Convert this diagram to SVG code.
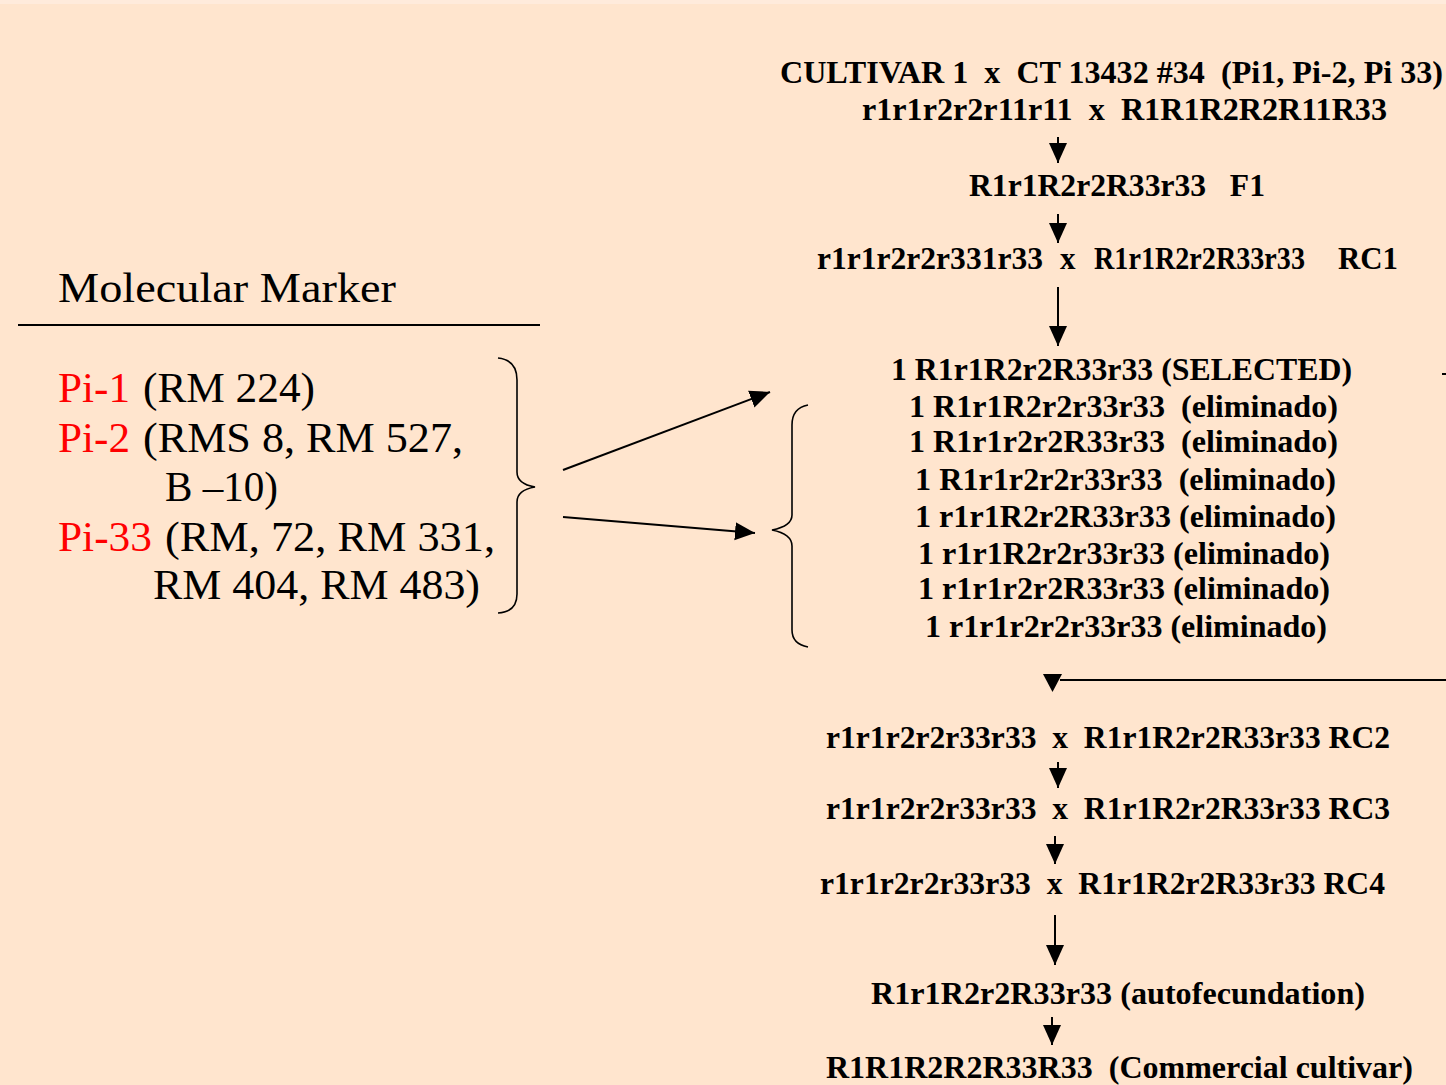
<svg xmlns="http://www.w3.org/2000/svg" width="1446" height="1085" viewBox="0 0 1446 1085" xml:space="preserve">
<style>
.r{font-family:"Liberation Serif","Times New Roman",serif;font-weight:bold;font-size:31px;fill:#000;white-space:pre}
.l{font-family:"Liberation Serif","Times New Roman",serif;font-size:42px;fill:#000;white-space:pre}
.red{fill:#FF0000}
.ln{stroke:#000;stroke-width:2;fill:none}
.br{stroke:#000;stroke-width:1.6;fill:none}
</style>
<defs>
<marker id="ah" markerUnits="userSpaceOnUse" markerWidth="20" markerHeight="20" viewBox="0 0 20 20" refX="20" refY="10" orient="auto">
<path d="M0,1 L20,10 L0,19 Z" fill="#000"/>
</marker>
</defs>
<rect width="1446" height="1085" fill="#FFE5CE"/>
<rect width="1446" height="4" fill="#FFEBDC"/>

<g id="marker-panel">
<text class="l" x="58" y="302" textLength="338" lengthAdjust="spacingAndGlyphs">Molecular Marker</text>
<line class="ln" x1="18" y1="325" x2="540" y2="325"/>
<text class="l red" x="58" y="402" textLength="72" lengthAdjust="spacingAndGlyphs">Pi-1</text>
<text class="l" x="143" y="402" textLength="172" lengthAdjust="spacingAndGlyphs">(RM 224)</text>
<text class="l red" x="58" y="452" textLength="72" lengthAdjust="spacingAndGlyphs">Pi-2</text>
<text class="l" x="143" y="452" textLength="320" lengthAdjust="spacingAndGlyphs">(RMS 8, RM 527,</text>
<text class="l" x="165" y="501" textLength="113" lengthAdjust="spacingAndGlyphs">B –10)</text>
<text class="l red" x="58" y="551" textLength="94" lengthAdjust="spacingAndGlyphs">Pi-33</text>
<text class="l" x="165" y="551" textLength="330" lengthAdjust="spacingAndGlyphs">(RM, 72, RM 331,</text>
<text class="l" x="153" y="599" textLength="327" lengthAdjust="spacingAndGlyphs">RM 404, RM 483)</text>
<path class="br" d="M498,358 Q517,360 517,380 L517,472 Q517,484 535,487 Q517,490 517,502 L517,594 Q517,612 498,613"/>
</g>

<g id="cross1">
<text class="r" x="780" y="83" textLength="663" lengthAdjust="spacingAndGlyphs">CULTIVAR 1  x  CT 13432 #34  (Pi1, Pi-2, Pi 33)</text>
<text class="r" x="862" y="120" textLength="525" lengthAdjust="spacingAndGlyphs">r1r1r2r2r11r11  x  R1R1R2R2R11R33</text>
</g>
<g id="f1">
<text class="r" x="969" y="196" textLength="296" lengthAdjust="spacingAndGlyphs">R1r1R2r2R33r33   F1</text>
</g>
<g id="rc1">
<text class="r" x="817" y="269" textLength="226" lengthAdjust="spacingAndGlyphs">r1r1r2r2r331r33</text>
<text class="r" x="1060" y="269">x</text>
<text class="r" x="1094" y="269" textLength="211" lengthAdjust="spacingAndGlyphs">R1r1R2r2R33r33</text>
<text class="r" x="1338" y="269" textLength="60" lengthAdjust="spacingAndGlyphs">RC1</text>
</g>
<g id="selection">
<text class="r" x="891" y="380" textLength="461" lengthAdjust="spacingAndGlyphs">1 R1r1R2r2R33r33 (SELECTED)</text>
<text class="r" x="909" y="417" textLength="429" lengthAdjust="spacingAndGlyphs">1 R1r1R2r2r33r33  (eliminado)</text>
<text class="r" x="909" y="452" textLength="429" lengthAdjust="spacingAndGlyphs">1 R1r1r2r2R33r33  (eliminado)</text>
<text class="r" x="915" y="490" textLength="421" lengthAdjust="spacingAndGlyphs">1 R1r1r2r2r33r33  (eliminado)</text>
<text class="r" x="915" y="527" textLength="421" lengthAdjust="spacingAndGlyphs">1 r1r1R2r2R33r33 (eliminado)</text>
<text class="r" x="918" y="564" textLength="412" lengthAdjust="spacingAndGlyphs">1 r1r1R2r2r33r33 (eliminado)</text>
<text class="r" x="918" y="599" textLength="412" lengthAdjust="spacingAndGlyphs">1 r1r1r2r2R33r33 (eliminado)</text>
<text class="r" x="925" y="637" textLength="402" lengthAdjust="spacingAndGlyphs">1 r1r1r2r2r33r33 (eliminado)</text>
<path class="br" d="M808,405 Q792,408 792,425 L792,515 Q792,526 772,530 Q792,534 792,546 L792,630 Q792,644 808,647"/>
</g>
<g id="rc2">
<text class="r" x="826" y="748" textLength="564" lengthAdjust="spacingAndGlyphs">r1r1r2r2r33r33  x  R1r1R2r2R33r33 RC2</text>
</g>
<g id="rc3">
<text class="r" x="826" y="819" textLength="564" lengthAdjust="spacingAndGlyphs">r1r1r2r2r33r33  x  R1r1R2r2R33r33 RC3</text>
</g>
<g id="rc4">
<text class="r" x="820" y="894" textLength="565" lengthAdjust="spacingAndGlyphs">r1r1r2r2r33r33  x  R1r1R2r2R33r33 RC4</text>
</g>
<g id="self">
<text class="r" x="871" y="1004" textLength="494" lengthAdjust="spacingAndGlyphs">R1r1R2r2R33r33 (autofecundation)</text>
</g>
<g id="commercial">
<text class="r" x="826" y="1078" textLength="587" lengthAdjust="spacingAndGlyphs">R1R1R2R2R33R33  (Commercial cultivar)</text>
</g>

<g id="connectors">
<line class="ln" x1="563" y1="470" x2="770" y2="392" marker-end="url(#ah)"/>
<line class="ln" x1="563" y1="517" x2="755" y2="533" marker-end="url(#ah)"/>
<line class="ln" x1="1058" y1="137" x2="1058" y2="163" marker-end="url(#ah)"/>
<line class="ln" x1="1058" y1="214" x2="1058" y2="243" marker-end="url(#ah)"/>
<line class="ln" x1="1058" y1="287" x2="1058" y2="346" marker-end="url(#ah)"/>
<line class="ln" x1="1058" y1="762" x2="1058" y2="788" marker-end="url(#ah)"/>
<line class="ln" x1="1055" y1="836" x2="1055" y2="864" marker-end="url(#ah)"/>
<line class="ln" x1="1055" y1="915" x2="1055" y2="965" marker-end="url(#ah)"/>
<line class="ln" x1="1052" y1="1017" x2="1052" y2="1045" marker-end="url(#ah)"/>
<line class="ln" x1="1060" y1="680" x2="1446" y2="680"/>
<path d="M1043,674 L1062,674 L1052.5,692 Z" fill="#000"/>
<line class="ln" x1="1442" y1="374" x2="1446" y2="374"/>
</g>
</svg>
